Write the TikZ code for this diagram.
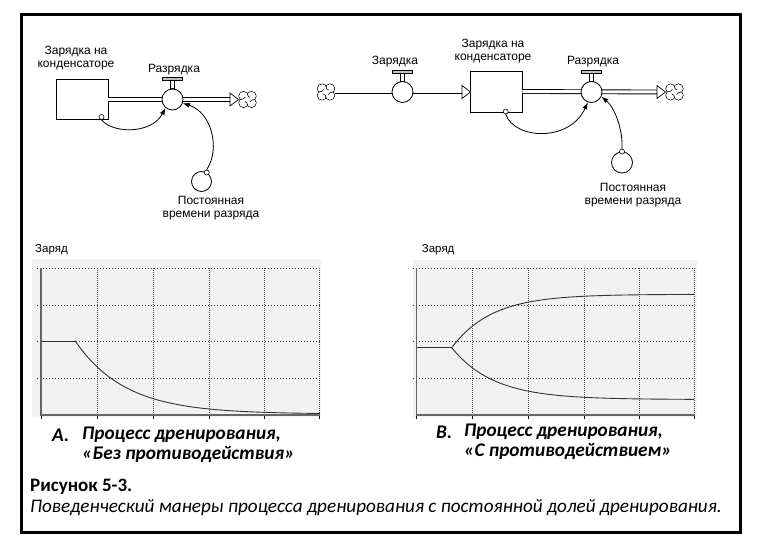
\documentclass[tikz,border=0pt]{standalone}
\usepackage{fontspec}
\setmainfont{Liberation Sans}
\newfontfamily\calib{Carlito}
\usetikzlibrary{arrows.meta}
\begin{document}
\begin{tikzpicture}[x=1pt,y=-1pt,
  lbl/.style={font=\fontsize{12}{13.5}\selectfont, align=center, inner sep=0},
  stockbox/.style={draw, line width=0.8, fill=white, inner sep=0, minimum width=52, minimum height=40},
  valvec/.style={circle, draw, fill=white, minimum size=21, inner sep=0, line width=0.8},
  auxc/.style={circle, draw, fill=white, minimum size=20, inner sep=0, line width=0.8},
  smalldot/.style={circle, draw, fill=white, minimum size=5, inner sep=0, line width=0.6},
  pipe/.style={double, double distance=3pt, line width=0.9pt},
  infolink/.style={line width=0.8, -{Latex[length=7,width=5]}},
  cloudn/.style={inner sep=0, minimum width=18, minimum height=16},
  gridl/.style={line width=0.8, dash pattern=on 1pt off 2pt, black!85},
  axisl/.style={line width=1.4, black!60},
  curvel/.style={line width=0.9, black!80},
  captxt/.style={font=\calib\bfseries\itshape\fontsize{19.3}{21}\selectfont, anchor=west, inner sep=0},
]
\useasboundingbox (0,0) rectangle (757,553);
\fill[white] (0,0) rectangle (757,553);
\draw[line width=3] (21,15) rectangle (740,532);

% ---------- valve and cloud helpers
\newcommand{\valvetop}[1]{%
  \draw[line width=0.6, fill=white] ([xshift=-2pt]#1.north) rectangle ([xshift=2pt,yshift=8pt]#1.north);
  \draw[line width=0.7, fill=black!25] ([xshift=-10pt,yshift=8pt]#1.north) rectangle ([xshift=10pt,yshift=11pt]#1.north);}
\newcommand{\vcloud}[1]{%
  \begin{scope}[shift={(#1.center)}]
    \foreach \sx/\sy in {-4/-3.4,4/-3.4,-4/3.4,4/3.4} \draw[line width=0.7, fill=white] (\sx,\sy) circle (4.7);
    \foreach \sx/\sy in {-4/-3.4,4/-3.4,-4/3.4,4/3.4} \fill[white] (\sx,\sy) circle (4.25);
    \fill[white] (-3,-3) rectangle (3,3);
    \draw[line width=0.6] (0,-5.9) .. controls (0,-3.5) and (1,-2.5) .. (2.6,-2);
    \draw[line width=0.6] (7.2,0) .. controls (4.5,0) and (3,1) .. (2.2,2.6);
    \draw[line width=0.6] (0,5.9) .. controls (0,3.5) and (-1,2.5) .. (-2.6,2);
    \draw[line width=0.6] (-7.2,0) .. controls (-4.5,0) and (-3,-1) .. (-2.2,-2.6);
  \end{scope}}

% ================= LEFT DIAGRAM
\node[stockbox] (s1) at (82,99.5) {};
\node[lbl] (s1l) at (76,58) {Зарядка на\\конденсаторе};
\node[cloudn] (c1) at (247.5,99.5) {};
\vcloud{c1}
\coordinate (a1) at (230,99.5);
\draw[pipe] (s1.east) -- (a1);
\draw[line width=0.7, fill=white] (230,93) -- (238.5,99.5) -- (230,106) -- cycle;
\node[valvec] (v1) at (172.5,99.5) {};
\valvetop{v1}
\node[lbl] (v1l) at (174,70) {Разрядка};
\node[auxc] (k1) at (201.5,181.5) {};
\node[lbl] (k1l) at (211,208) {Постоянная\\времени разряда};
\node[smalldot] (d1) at (101.5,117) {};
\node[smalldot] (d2) at (k1.60) {};
\draw[infolink] (d1.south) .. controls (113,134) and (152,134) .. (v1.-130);
\draw[infolink] (d2.north) .. controls (221,148) and (211,112) .. (v1.-20);

% ================= RIGHT DIAGRAM
\node[cloudn] (c2) at (326,92) {};
\vcloud{c2}
\node[stockbox, minimum height=41] (s2) at (496,91.5) {};
\node[lbl] (s2l) at (493,51) {Зарядка на\\конденсаторе};
\coordinate (a2) at (462,92);
\draw[pipe] (c2.east) -- (a2);
\draw[line width=0.7, fill=white] (462,85.5) -- (470.5,92) -- (462,98.5) -- cycle;
\node[valvec] (v2) at (402.5,92) {};
\valvetop{v2}
\node[lbl] (v2l) at (395,62) {Зарядка};
\node[cloudn] (c3) at (674.5,92) {};
\vcloud{c3}
\coordinate (a3) at (657,92);
\draw[pipe] (s2.east) -- (a3);
\draw[line width=0.7, fill=white] (657,85.5) -- (665.5,92) -- (657,98.5) -- cycle;
\node[valvec] (v3) at (591.5,92) {};
\valvetop{v3}
\node[lbl] (v3l) at (593,62) {Разрядка};
\node[auxc, minimum size=21] (k2) at (622,162.5) {};
\node[lbl] (k2l) at (633,195) {Постоянная\\времени разряда};
\node[smalldot] (d3) at (505.7,111.5) {};
\node[smalldot] (d4) at (k2.north) {};
\draw[infolink] (d3.south) .. controls (515,140) and (570,142) .. (v3.-110);
\draw[infolink] (d4.north) .. controls (623,128) and (614,107) .. (v3.-25);

% ================= LEFT GRAPH
\node[font=\fontsize{11.5}{13}\selectfont, anchor=west, inner sep=0] (g1t) at (35,250) {Заряд};
\fill[black!5] (31.7,259) rectangle (320.5,416.5);
\begin{scope}[shift={(41,415)}]
  \foreach \k in {1,2,3,4} \draw[gridl] (-4,-36.7*\k) -- (279,-36.7*\k);
  \foreach \i in {56.3,112.3,168.3,223,278.5} \draw[gridl, dash pattern=on 1pt off 1pt, black!70] (\i,-147) -- (\i,0);
  \foreach \i in {0,56.3,112.3,168.3,223,278.5} \draw[line width=0.8] (\i,0) -- (\i,4);
  \draw[axisl] (0,-147) -- (0,0) -- (279,0);
  \draw[curvel] (0,-73.3) -- (34,-73.3);
  \draw[curvel, domain=34:279, samples=80] plot (\x,{-73.3*exp(-(\x-34)/50)-1});
\end{scope}

% ================= RIGHT GRAPH
\node[font=\fontsize{11.5}{13}\selectfont, anchor=west, inner sep=0] (g2t) at (421.7,250) {Заряд};
\fill[black!5] (413,260) rectangle (696.7,416.5);
\begin{scope}[shift={(416.7,415)}]
  \foreach \k in {1,2,3,4} \draw[gridl] (-4,-36.7*\k) -- (278,-36.7*\k);
  \foreach \i in {56,111.6,167.6,222.6,277.3} \draw[gridl, dash pattern=on 1pt off 1pt, black!70] (\i,-147) -- (\i,0);
  \foreach \i in {0,56,111.6,167.6,222.6,277.3} \draw[line width=0.8] (\i,0) -- (\i,4);
  \draw[axisl] (0,-147) -- (0,0) -- (278,0);
  \draw[curvel] (0,-67.3) -- (35,-67.3);
  \draw[curvel, domain=35:277.3, samples=80] plot (\x,{-67.3-53.4*(1-exp(-(\x-35)/40))});
  \draw[curvel, domain=35:277.3, samples=80] plot (\x,{-67.3+51.8*(1-exp(-(\x-35)/42))});
\end{scope}

% ================= CAPTIONS
\node[captxt] (ca) at (52,435) {A.};
\node[captxt] (ca1) at (82,435) {Процесс дренирования,};
\node[captxt] (ca2) at (82,454) {«Без противодействия»};
\node[captxt] (cb) at (436,432) {B.};
\node[captxt] (cb1) at (464,432) {Процесс дренирования,};
\node[captxt] (cb2) at (464,451) {«С противодействием»};
\node[font=\calib\bfseries\fontsize{19}{21}\selectfont, anchor=west, inner sep=0] (fig) at (30,487) {Рисунок 5-3.};
\node[font=\calib\itshape\fontsize{19.2}{21}\selectfont, anchor=west, inner sep=0] (figt) at (30,508) {Поведенческий манеры процесса дренирования с постоянной долей дренирования.};
\end{tikzpicture}
\end{document}
